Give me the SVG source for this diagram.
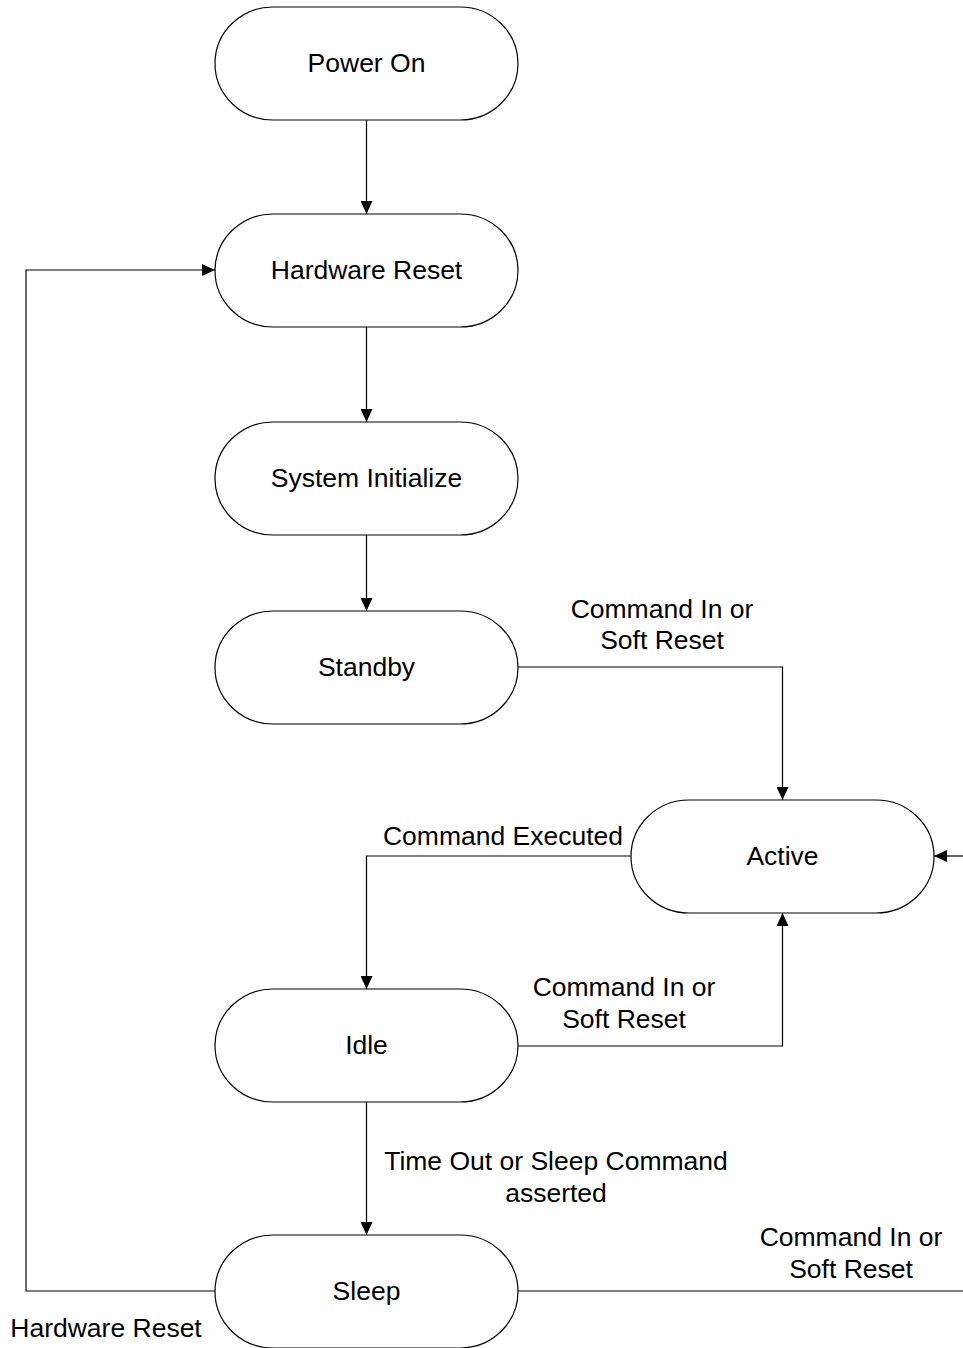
<svg xmlns="http://www.w3.org/2000/svg" width="963" height="1348" viewBox="0 0 963 1348">
<style>
.node{fill:#fff;stroke:#000;stroke-width:1.2}
.t{font-family:"Liberation Sans",Arial,sans-serif;font-size:26.5px;fill:#000;text-anchor:middle;dominant-baseline:central}
.c{fill:none;stroke:#000;stroke-width:1.2}
</style>
<defs>
<marker id="ah" viewBox="0 0 13 12" refX="13" refY="6" markerWidth="13" markerHeight="12" markerUnits="userSpaceOnUse" orient="auto">
<path d="M0,0L13,6L0,12Z" fill="#000"/>
</marker>
</defs>
<rect width="963" height="1348" fill="#fff"/>
<g id="connectors">
<path class="c" d="M366.5,120V214" marker-end="url(#ah)"/>
<path class="c" d="M366.5,327V422" marker-end="url(#ah)"/>
<path class="c" d="M366.5,535V611" marker-end="url(#ah)"/>
<path class="c" d="M518,667H782.5V800" marker-end="url(#ah)"/>
<path class="c" d="M631,856H366.5V989" marker-end="url(#ah)"/>
<path class="c" d="M518,1046H782.5V913" marker-end="url(#ah)"/>
<path class="c" d="M366.5,1102V1235" marker-end="url(#ah)"/>
<path class="c" d="M215,1291H26V270H215" marker-end="url(#ah)"/>
<path class="c" d="M518,1291H963"/>
<path class="c" d="M963,856H934" marker-end="url(#ah)"/>
<text class="t" x="662" y="609">Command In or</text>
<text class="t" x="662" y="640">Soft Reset</text>
<text class="t" x="503" y="836">Command Executed</text>
<text class="t" x="624" y="987">Command In or</text>
<text class="t" x="624" y="1019">Soft Reset</text>
<text class="t" x="556" y="1161">Time Out or Sleep Command</text>
<text class="t" x="556" y="1193">asserted</text>
<text class="t" x="106" y="1328">Hardware Reset</text>
<text class="t" x="851" y="1237">Command In or</text>
<text class="t" x="851" y="1269">Soft Reset</text>
</g>
<g id="power-on"><rect class="node" x="215" y="7" width="303" height="113" rx="58" ry="56.5"/><text class="t" x="366.5" y="63">Power On</text></g>
<g id="hardware-reset"><rect class="node" x="215" y="214" width="303" height="113" rx="58" ry="56.5"/><text class="t" x="366.5" y="270">Hardware Reset</text></g>
<g id="system-initialize"><rect class="node" x="215" y="422" width="303" height="113" rx="58" ry="56.5"/><text class="t" x="366.5" y="478">System Initialize</text></g>
<g id="standby"><rect class="node" x="215" y="611" width="303" height="113" rx="58" ry="56.5"/><text class="t" x="366.5" y="667">Standby</text></g>
<g id="active"><rect class="node" x="631" y="800" width="303" height="113" rx="58" ry="56.5"/><text class="t" x="782.5" y="856">Active</text></g>
<g id="idle"><rect class="node" x="215" y="989" width="303" height="113" rx="58" ry="56.5"/><text class="t" x="366.5" y="1045">Idle</text></g>
<g id="sleep"><rect class="node" x="215" y="1235" width="303" height="113" rx="58" ry="56.5"/><text class="t" x="366.5" y="1291">Sleep</text></g>
</svg>
